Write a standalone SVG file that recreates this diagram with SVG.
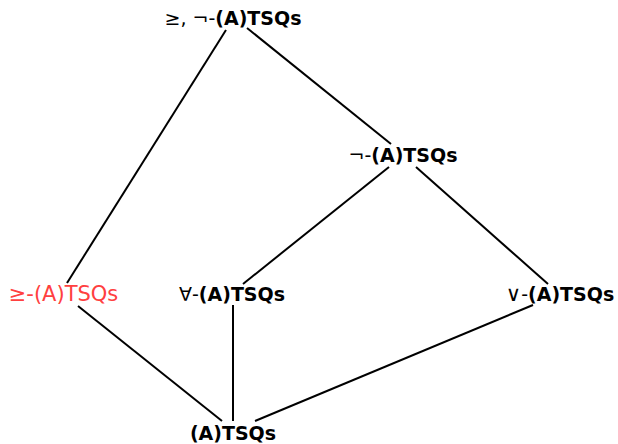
<svg xmlns="http://www.w3.org/2000/svg" width="618" height="444" viewBox="0 0 618 444">
<style>
text{font-family:"DejaVu Sans",sans-serif;font-size:19px;fill:#000;text-anchor:middle}
.b{font-weight:bold}
.red{fill:#ff4040;font-size:21px}
.sym{font-size:21px}
line{stroke:#000;stroke-width:2}
</style>
<rect width="618" height="444" fill="#fff"/>
<g id="connectors">
<line x1="226" y1="30" x2="67" y2="283"/>
<line x1="247" y1="28" x2="391" y2="144"/>
<line x1="389" y1="167" x2="243" y2="284"/>
<line x1="416" y1="167" x2="548" y2="284"/>
<line x1="78" y1="306" x2="222" y2="421"/>
<line x1="233" y1="305" x2="233" y2="421"/>
<line x1="533" y1="305" x2="255" y2="421"/>
</g>
<g id="n-top"><text x="233" y="25">≥, ¬-<tspan class="b">(A)TSQs</tspan></text></g>
<g id="n-neg"><text x="403" y="162">¬-<tspan class="b">(A)TSQs</tspan></text></g>
<g id="n-geq"><text class="red" x="63.5" y="301">≥-(A)TSQs</text></g>
<g id="n-all"><text x="232" y="301">∀-<tspan class="b">(A)TSQs</tspan></text></g>
<g id="n-or"><text x="560" y="301"><tspan class="sym">∨</tspan>-<tspan class="b">(A)TSQs</tspan></text></g>
<g id="n-bot"><text class="b" x="233" y="440">(A)TSQs</text></g>
</svg>
